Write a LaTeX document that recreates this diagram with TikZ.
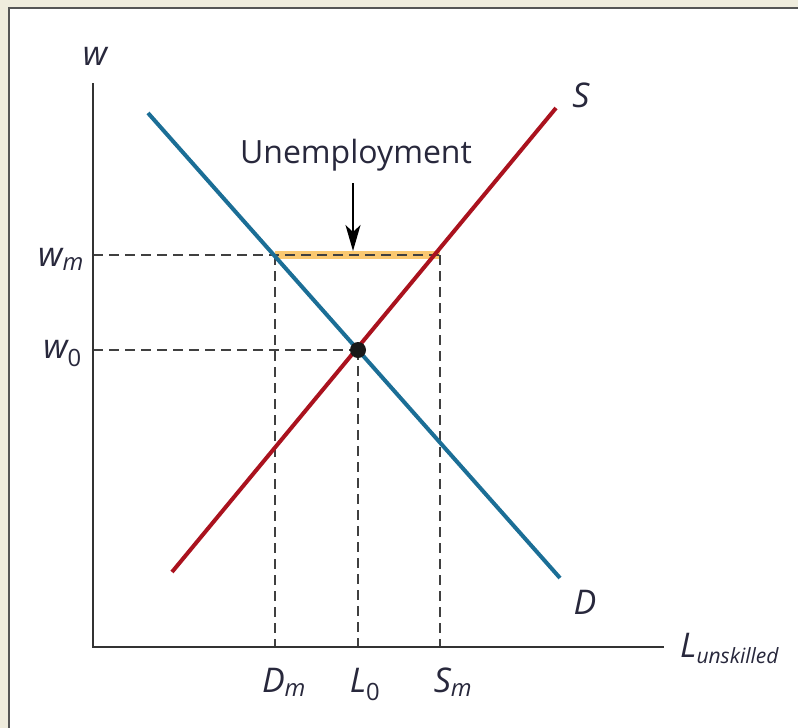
\documentclass[tikz,border=0pt]{standalone}
\usepackage{fontspec}
\setmainfont{Open Sans}
\usetikzlibrary{arrows.meta}

\definecolor{framebg}{RGB}{239,236,221}
\definecolor{framegray}{RGB}{85,85,85}
\definecolor{demandblue}{RGB}{27,110,150}
\definecolor{supplyred}{RGB}{170,18,30}
\definecolor{gapyellow}{RGB}{250,200,112}
\definecolor{labtext}{RGB}{40,40,60}

\tikzset{
  axis/.style={line width=2pt, draw=black!80},
  guide/.style={line width=1.6pt, draw=black!75, dash pattern=on 10pt off 6pt},
  curve/.style={line width=4pt},
  lab/.style={font=\fontsize{34}{40}\selectfont\itshape, text=labtext, inner sep=0pt},
}

\begin{document}
\begin{tikzpicture}[x=1pt,y=-1pt]

\useasboundingbox (0,0) rectangle (798,728);

% Cadre
\fill[framebg] (0,0) rectangle (798,728);
\fill[white] (9,8) rectangle (798,728);
\draw[framegray, line width=2.5pt] (9,728) -- (9,8) -- (798,8);

% Points du graphique
\coordinate (O) at (93,647);
\coordinate (ytop) at (93,83);
\coordinate (xend) at (664,647);
\coordinate (dtop) at (148,113);
\coordinate (dbot) at (560,578);
\coordinate (sbot) at (172,572);
\coordinate (stop) at (556,108);
\coordinate (eq) at (358,350);
\coordinate (dmin) at (275,255);
\coordinate (smin) at (440,255);
\coordinate (wmaxis) at (93,255);
\coordinate (w0axis) at (93,350);
\coordinate (dmaxis) at (275,647);
\coordinate (l0axis) at (358,647);
\coordinate (smaxis) at (440,647);

% Chômage
\draw[gapyellow, line width=8pt] (dmin) -- (smin);

% Pointillés
\draw[guide] (wmaxis) -- (smin);
\draw[guide] (w0axis) -- (eq);
\draw[guide] (dmin) -- (dmaxis);
\draw[guide] (eq) -- (l0axis);
\draw[guide] (smin) -- (smaxis);

% Axes
\draw[axis] (ytop) -- (O) -- (xend);

% Offre et demande
\draw[curve, demandblue] (dtop) -- (dbot);
\draw[curve, supplyred] (sbot) -- (stop);
\fill[black!90] (eq) circle (8pt);

% Étiquettes
\node[lab, anchor=base] (wlab) at (95,65) {w};
\node[lab, anchor=base west] (llab) at (680,657) {L\raisebox{-6pt}{\fontsize{21}{24}\selectfont unskilled}};
\node[lab, anchor=base] (slab) at (581,107) {S};
\node[lab, anchor=base] (dlab) at (585,614) {D};
\node[lab, anchor=base east] (wmlab) at (84,266) {w\textsubscript{m}};
\node[lab, anchor=base east] (w0lab) at (82,358) {w\textsubscript{\upshape 0}};
\node[lab, anchor=base] (dmlab) at (284,692) {D\textsubscript{m}};
\node[lab, anchor=base] (l0lab) at (365,692) {L\textsubscript{\upshape 0}};
\node[lab, anchor=base] (smlab) at (453,692) {S\textsubscript{m}};

\node[font=\fontsize{32}{38}\selectfont, text=labtext, inner sep=0pt, anchor=base] (unemp) at (356,163) {Unemployment};
\coordinate (arrtip) at (353,251);
\draw[line width=1.8pt, -{Stealth[length=26pt,width=15pt,inset=7pt]}] (353,183) -- (arrtip);

\end{tikzpicture}
\end{document}
